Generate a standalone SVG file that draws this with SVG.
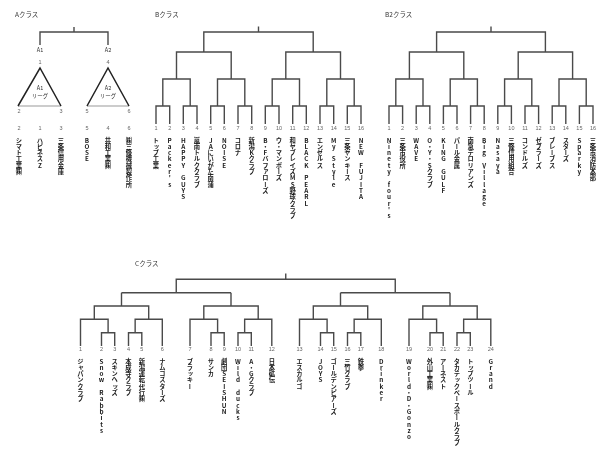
<svg xmlns="http://www.w3.org/2000/svg" xmlns:xlink="http://www.w3.org/1999/xlink" width="600" height="460" viewBox="0 0 600 460">
<style>
.ln{fill:none;stroke:#4a4a4a;stroke-width:1.4}
.tri{fill:none;stroke:#222;stroke-width:1.5}
.base{fill:none;stroke:#999;stroke-width:1.2}
.ttl{font-family:"Noto Sans CJK JP",sans-serif;font-size:6.5px;fill:#333}
.num{font-family:"Liberation Sans",sans-serif;font-size:5.5px;fill:#666;text-anchor:middle}
.lb{font-family:"Noto Sans CJK JP",sans-serif;font-size:5.5px;fill:#333;text-anchor:middle}
.v{font-family:"Noto Sans CJK JP",sans-serif;font-size:6.3px;font-weight:bold;fill:#1a1a1a;writing-mode:vertical-rl;text-orientation:upright}
</style>
<defs>
<filter id="gray" x="-5%" y="-5%" width="110%" height="110%"><feColorMatrix type="saturate" values="0"/></filter>
<path id="c6" class="ln" d="M21 346V332.7H34.2V346M48 346V332.7H61.3V346M0 346V319.3H27.6V332.7M54.65 332.7V319.3H81.8V346M13.8 319.3V306H68.2V319.3M41 306V292.7"/>
</defs>
<rect width="600" height="460" fill="#fff"/>
<g filter="url(#gray)">
<text class="ttl" x="15" y="17">Aクラス</text>
<text class="ttl" x="155" y="17">Bクラス</text>
<text class="ttl" x="385" y="17">B2クラス</text>
<text class="ttl" x="135" y="266">Cクラス</text>
</g>
<g id="connectors">
<path class="ln" d="M40 45V32H108V45M74 32V27"/>
<path class="ln" d="M156 124V106H169.7V124M183.3 124V106H197V124M210.7 124V106H224.3V124M238 124V106H251.7V124M265.3 124V106H279V124M292.7 124V106H306.3V124M320 124V106H333.7V124M347.3 124V106H361V124"/>
<path class="ln" d="M162.8 106V79H190.2V106M217.5 106V79H244.8V106M272.2 106V79H299.5V106M326.8 106V79H354.2V106"/>
<path class="ln" d="M176.5 79V52H231.2V79M285.8 79V52H340.5V79M203.8 52V32H313.2V52M258.5 32V26.5"/>
<path class="ln" d="M389 124V106H402.6V124M416.2 124V106H429.8V124M443.4 124V106H457V124M470.6 124V106H484.2V124M497.8 124V106H511.4V124M525 124V106H538.6V124M552.2 124V106H565.8V124M579.4 124V106H593V124"/>
<path class="ln" d="M395.8 106V79H423V106M450.2 106V79H477.4V106M504.6 106V79H531.8V106M559 106V79H586.2V106"/>
<path class="ln" d="M409.4 79V52H463.8V79M518.2 79V52H572.6V79M436.6 52V32H545.4V52M491 32V26.5"/>
<use xlink:href="#c6" x="80.5"/>
<use xlink:href="#c6" x="190"/>
<use xlink:href="#c6" x="299.5"/>
<use xlink:href="#c6" x="409"/>
<path class="ln" d="M121.5 292.7H231M340.5 292.7H450M176.25 292.7V279.3H395.25V292.7M285.75 279.3V273.5"/>
</g>
<g filter="url(#gray)">
<g id="A1-league">
<text class="lb" x="40" y="52">A1</text>
<text class="num" x="40" y="64">1</text>
<path class="base" d="M18 106H61"/>
<path class="tri" d="M18 106L40 68L61 106"/>
<text class="lb" x="40" y="89.5">A1</text>
<text class="lb" x="40" y="97.5">リーグ</text>
<text class="num" x="19" y="113">2</text>
<text class="num" x="61" y="113">3</text>
</g>
<g id="A2-league">
<text class="lb" x="108" y="52">A2</text>
<text class="num" x="108" y="64">4</text>
<path class="base" d="M87 106H129"/>
<path class="tri" d="M87 106L108 68L129 106"/>
<text class="lb" x="108" y="89.5">A2</text>
<text class="lb" x="108" y="97.5">リーグ</text>
<text class="num" x="87" y="113">5</text>
<text class="num" x="129" y="113">6</text>
</g>
<g id="A-2"><text class="num" x="19" y="130">2</text><text class="v" x="19" y="137">シマト工業㈱</text></g>
<g id="A-1"><text class="num" x="40" y="130">1</text><text class="v" x="40" y="137">ハピネスZ</text></g>
<g id="A-3"><text class="num" x="61" y="130">3</text><text class="v" x="61" y="137">三条信用金庫</text></g>
<g id="A-5"><text class="num" x="87" y="130">5</text><text class="v" x="87" y="137">BOSE</text></g>
<g id="A-4"><text class="num" x="108" y="130">4</text><text class="v" x="108" y="137">共和工業㈱</text></g>
<g id="A-6"><text class="num" x="129" y="130">6</text><text class="v" x="129" y="137">㈱三條機械製作所</text></g>
<g id="B-1"><text class="num" x="156" y="130">1</text><text class="v" x="156" y="137">トップ工業</text></g>
<g id="B-2"><text class="num" x="169.7" y="130">2</text><text class="v" x="169.7" y="137">Packer's</text></g>
<g id="B-3"><text class="num" x="183.3" y="130">3</text><text class="v" x="183.3" y="137">HAPPY GUYS</text></g>
<g id="B-4"><text class="num" x="197" y="130">4</text><text class="v" x="197" y="137">嵐南トルククラブ</text></g>
<g id="B-5"><text class="num" x="210.7" y="130">5</text><text class="v" x="210.7" y="137">JAにいがた南蒲</text></g>
<g id="B-6"><text class="num" x="224.3" y="130">6</text><text class="v" x="224.3" y="137">NOISE</text></g>
<g id="B-7"><text class="num" x="238" y="130">7</text><text class="v" x="238" y="137">コロナ</text></g>
<g id="B-8"><text class="num" x="251.7" y="130">8</text><text class="v" x="251.7" y="137">新潟Kクラブ</text></g>
<g id="B-9"><text class="num" x="265.3" y="130">9</text><text class="v" x="265.3" y="137">B・Fバファローズ</text></g>
<g id="B-10"><text class="num" x="279" y="130">10</text><text class="v" x="279" y="137">ウ・マンボーズ</text></g>
<g id="B-11"><text class="num" x="292.7" y="130">11</text><text class="v" x="292.7" y="137">和ヤブレイズMS野球クラブ</text></g>
<g id="B-12"><text class="num" x="306.3" y="130">12</text><text class="v" x="306.3" y="137">BLACK PEARL</text></g>
<g id="B-13"><text class="num" x="320" y="130">13</text><text class="v" x="320" y="137">エンゼルス</text></g>
<g id="B-14"><text class="num" x="333.7" y="130">14</text><text class="v" x="333.7" y="137">My Style</text></g>
<g id="B-15"><text class="num" x="347.3" y="130">15</text><text class="v" x="347.3" y="137">三条ヤンキース</text></g>
<g id="B-16"><text class="num" x="361" y="130">16</text><text class="v" x="361" y="137">NEW FUJITA</text></g>
<g id="B2-1"><text class="num" x="389" y="130">1</text><text class="v" x="389" y="137">Ninety four's</text></g>
<g id="B2-2"><text class="num" x="402.6" y="130">2</text><text class="v" x="402.6" y="137">三条市役所</text></g>
<g id="B2-3"><text class="num" x="416.2" y="130">3</text><text class="v" x="416.2" y="137">WAVE</text></g>
<g id="B2-4"><text class="num" x="429.8" y="130">4</text><text class="v" x="429.8" y="137">O・Y・Sクラブ</text></g>
<g id="B2-5"><text class="num" x="443.4" y="130">5</text><text class="v" x="443.4" y="137">KING GULF</text></g>
<g id="B2-6"><text class="num" x="457" y="130">6</text><text class="v" x="457" y="137">パール金属</text></g>
<g id="B2-7"><text class="num" x="470.6" y="130">7</text><text class="v" x="470.6" y="137">南急デロリアンズ</text></g>
<g id="B2-8"><text class="num" x="484.2" y="130">8</text><text class="v" x="484.2" y="137">Big Village</text></g>
<g id="B2-9"><text class="num" x="497.8" y="130">9</text><text class="v" x="497.8" y="137">Nasaya</text></g>
<g id="B2-10"><text class="num" x="511.4" y="130">10</text><text class="v" x="511.4" y="137">三條信用組合</text></g>
<g id="B2-11"><text class="num" x="525" y="130">11</text><text class="v" x="525" y="137">コンドルズ</text></g>
<g id="B2-12"><text class="num" x="538.6" y="130">12</text><text class="v" x="538.6" y="137">ゼブラーズ</text></g>
<g id="B2-13"><text class="num" x="552.2" y="130">13</text><text class="v" x="552.2" y="137">ブレーブス</text></g>
<g id="B2-14"><text class="num" x="565.8" y="130">14</text><text class="v" x="565.8" y="137">スターズ</text></g>
<g id="B2-15"><text class="num" x="579.4" y="130">15</text><text class="v" x="579.4" y="137">Sparky</text></g>
<g id="B2-16"><text class="num" x="593" y="130">16</text><text class="v" x="593" y="137">三条市消防本部</text></g>
<g id="C-1"><text class="num" x="80.5" y="351">1</text><text class="v" x="80.5" y="358">ジャパンクラブ</text></g>
<g id="C-2"><text class="num" x="101.5" y="351">2</text><text class="v" x="101.5" y="358">Snow Rabbits</text></g>
<g id="C-3"><text class="num" x="114.7" y="351">3</text><text class="v" x="114.7" y="358">スキンヘッズ</text></g>
<g id="C-4"><text class="num" x="128.5" y="351">4</text><text class="v" x="128.5" y="358">本成寺クラブ</text></g>
<g id="C-5"><text class="num" x="141.8" y="351">5</text><text class="v" x="141.8" y="358">新潟運転代行㈱</text></g>
<g id="C-6"><text class="num" x="162.3" y="351">6</text><text class="v" x="162.3" y="358">ナムコスターズ</text></g>
<g id="C-7"><text class="num" x="190" y="351">7</text><text class="v" x="190" y="358">ブラッキー</text></g>
<g id="C-8"><text class="num" x="211" y="351">8</text><text class="v" x="211" y="358">サンカ</text></g>
<g id="C-9"><text class="num" x="224.2" y="351">9</text><text class="v" x="224.2" y="358">劇団SEISHUN</text></g>
<g id="C-10"><text class="num" x="238" y="351">10</text><text class="v" x="238" y="358">Wild ducks</text></g>
<g id="C-11"><text class="num" x="251.3" y="351">11</text><text class="v" x="251.3" y="358">A・Gクラブ</text></g>
<g id="C-12"><text class="num" x="271.8" y="351">12</text><text class="v" x="271.8" y="358">日本砿伝</text></g>
<g id="C-13"><text class="num" x="299.5" y="351">13</text><text class="v" x="299.5" y="358">エスカルゴ</text></g>
<g id="C-14"><text class="num" x="320.5" y="351">14</text><text class="v" x="320.5" y="358">JOYS</text></g>
<g id="C-15"><text class="num" x="333.7" y="351">15</text><text class="v" x="333.7" y="358">ゴールデンピアーズ</text></g>
<g id="C-16"><text class="num" x="347.5" y="351">16</text><text class="v" x="347.5" y="358">三竹クラブ</text></g>
<g id="C-17"><text class="num" x="360.8" y="351">17</text><text class="v" x="360.8" y="358">鉄拳</text></g>
<g id="C-18"><text class="num" x="381.3" y="351">18</text><text class="v" x="381.3" y="358">Drinker</text></g>
<g id="C-19"><text class="num" x="409" y="351">19</text><text class="v" x="409" y="358">World・D・Gonzo</text></g>
<g id="C-20"><text class="num" x="430" y="351">20</text><text class="v" x="430" y="358">外山工業㈱</text></g>
<g id="C-21"><text class="num" x="443.2" y="351">21</text><text class="v" x="443.2" y="358">アーネスト</text></g>
<g id="C-22"><text class="num" x="457" y="351">22</text><text class="v" x="457" y="358">タカテックベースボールクラブ</text></g>
<g id="C-23"><text class="num" x="470.3" y="351">23</text><text class="v" x="470.3" y="358">トップツール</text></g>
<g id="C-24"><text class="num" x="490.8" y="351">24</text><text class="v" x="490.8" y="358">Grand</text></g>
</g>
</svg>
